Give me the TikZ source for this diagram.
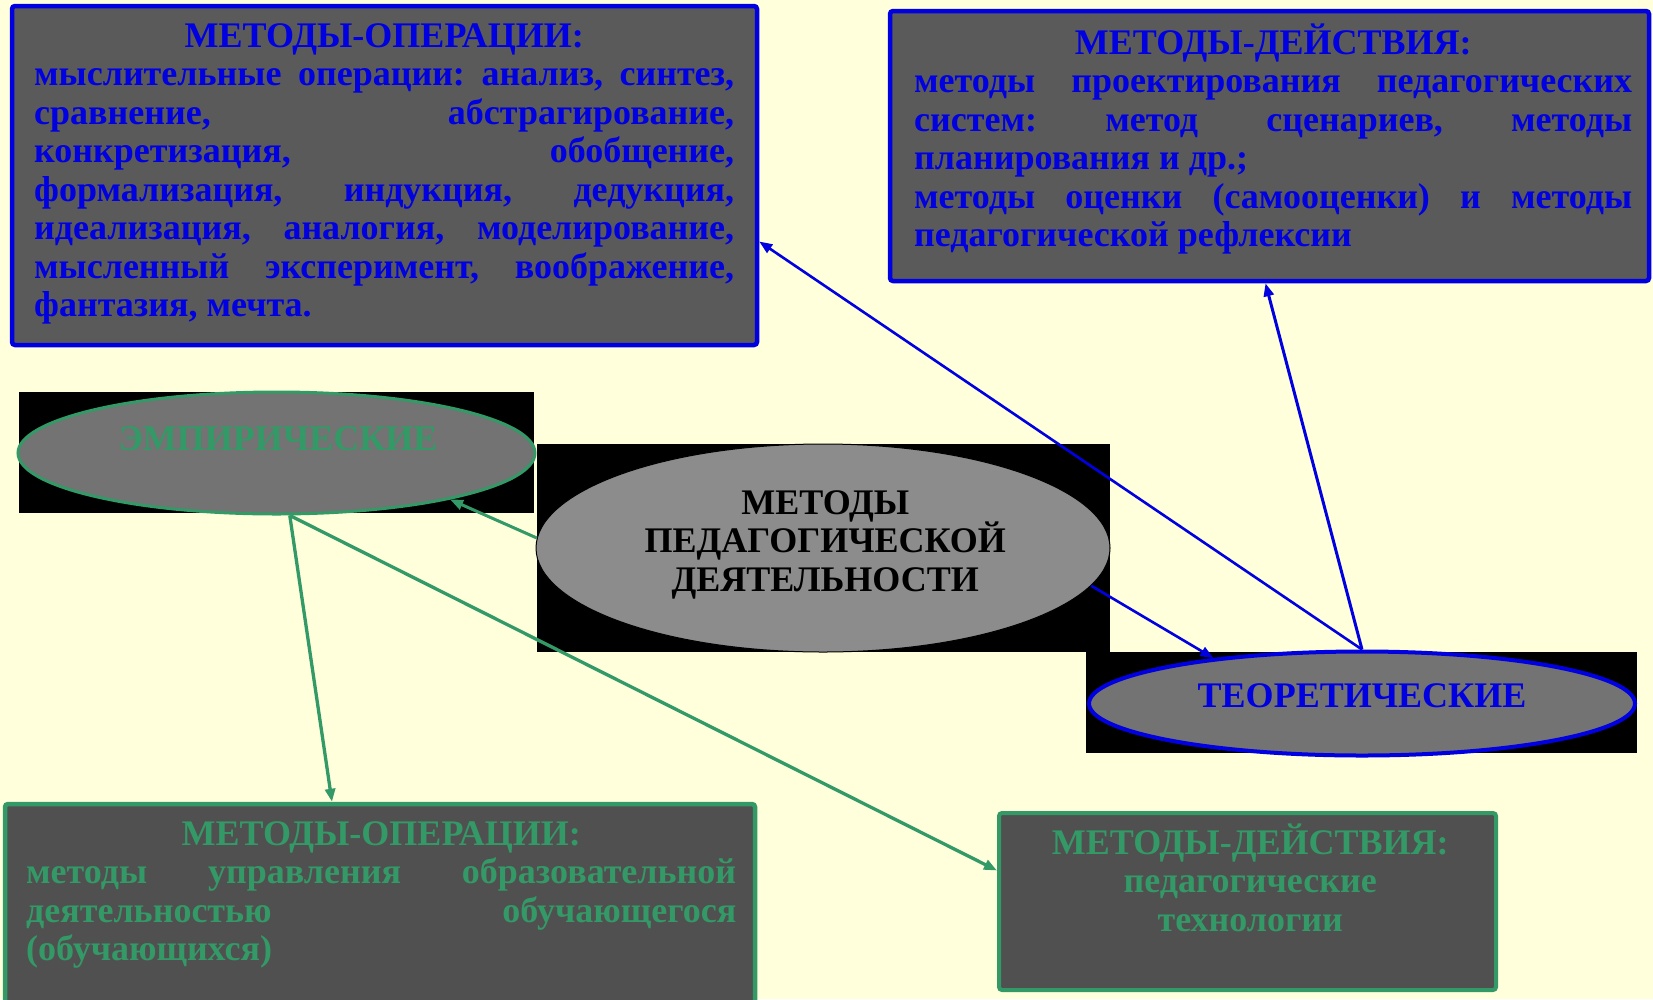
\documentclass[tikz,border=0pt]{standalone}
\usepackage{fontspec}
\setmainfont{Liberation Serif}
\usetikzlibrary{arrows.meta,shapes.geometric}
\definecolor{bg}{RGB}{255,255,220}
\definecolor{pblue}{RGB}{0,0,224}
\definecolor{pgreen}{RGB}{51,153,102}
\definecolor{boxgray}{RGB}{90,90,90}
\definecolor{boxgrayb}{RGB}{80,80,80}
\definecolor{ellgray}{RGB}{115,115,115}
\definecolor{cellgray}{RGB}{140,140,140}
\newcommand\jln[1]{\hbox to\hsize{\frenchspacing\spaceskip=0.2em plus 1fil minus 0.1em\xspaceskip=\spaceskip #1}}
\newcommand\lln[1]{\hbox to\hsize{#1\hfil}}
\newcommand\ctl[1]{\hbox to\hsize{\hfil #1\hfil}}
\begin{document}
\begin{tikzpicture}[x=1pt,y=-1pt,
  box/.style={rectangle, rounded corners=3pt, inner sep=0pt, line width=4.5pt},
  ell/.style={ellipse, inner sep=0pt},
  txt/.style={inner sep=0pt, font=\bfseries\fontsize{36}{38.5}\selectfont},
  bluearrow/.style={draw=pblue, line width=2.6pt, -{Triangle[length=13pt,width=10pt]}},
  greenarrow/.style={draw=pgreen, line width=3pt, -{Triangle[length=13pt,width=10pt]}}]
\useasboundingbox (0,0) rectangle (1653,999);
\clip (0,0) rectangle (1653,999);
\fill[bg] (0,0) rectangle (1653,999);
% black backgrounds behind the ellipses
\fill[black] (19,392) rectangle (534,513);
\fill[black] (537,444) rectangle (1110,652);
\fill[black] (1086,652) rectangle (1637,753);
% boxes
\node[box, draw=pblue, fill=boxgray, minimum width=745pt, minimum height=339pt] (tl) at (384.5,175.5) {};
\node[box, draw=pblue, fill=boxgray, minimum width=759pt, minimum height=270pt] (tr) at (1269.5,146) {};
\node[box, draw=pgreen, fill=boxgrayb, minimum width=750pt, minimum height=216pt] (bl) at (380,912) {};
\node[box, draw=pgreen, fill=boxgrayb, line width=4pt, minimum width=497pt, minimum height=177pt] (br) at (1247.5,901.5) {};
% ellipses
\node[ell, draw=pgreen, line width=3pt, fill=ellgray, minimum width=517pt, minimum height=122pt] (e) at (276.5,453) {};
\node[ell, draw=black, line width=1pt, fill=cellgray, minimum width=574pt, minimum height=208pt] (c) at (823,548) {};
\node[ell, draw=pblue, line width=4pt, fill=ellgray, minimum width=546pt, minimum height=104pt] (t) at (1362,703.5) {};
% texts
\node[txt, text=pblue, anchor=base west] (tltext) at (34,47) {\vtop{\hsize=700pt\lineskiplimit=-\maxdimen
  \ctl{МЕТОДЫ-ОПЕРАЦИИ:}
  \jln{мыслительные операции: анализ, синтез,}
  \jln{сравнение, абстрагирование,}
  \jln{конкретизация, обобщение,}
  \jln{формализация, индукция, дедукция,}
  \jln{идеализация, аналогия, моделирование,}
  \jln{мысленный эксперимент, воображение,}
  \lln{фантазия, мечта.}}};
\node[txt, text=pblue, anchor=base west] (trtext) at (914,54) {\vtop{\hsize=718pt\lineskiplimit=-\maxdimen
  \ctl{МЕТОДЫ-ДЕЙСТВИЯ:}
  \jln{методы проектирования педагогических}
  \jln{систем: метод сценариев, методы}
  \lln{планирования и др.;}
  \jln{методы оценки (самооценки) и методы}
  \lln{педагогической рефлексии}}};
\node[txt, text=pgreen, anchor=base west] (bltext) at (26,845) {\vtop{\hsize=710pt\lineskiplimit=-\maxdimen
  \ctl{МЕТОДЫ-ОПЕРАЦИИ:}
  \jln{методы управления образовательной}
  \jln{деятельностью обучающегося}
  \lln{(обучающихся)}}};
\node[txt, text=pgreen, anchor=base west] (brtext) at (1000,854) {\vtop{\hsize=500pt\lineskiplimit=-\maxdimen
  \ctl{МЕТОДЫ-ДЕЙСТВИЯ:}
  \ctl{педагогические}
  \ctl{технологии}}};
\node[txt, text=black, anchor=base west] (ctext) at (575,514) {\vtop{\hsize=500pt\lineskiplimit=-\maxdimen
  \ctl{МЕТОДЫ}
  \ctl{ПЕДАГОГИЧЕСКОЙ}
  \ctl{ДЕЯТЕЛЬНОСТИ}}};
\node[txt, text=pgreen, anchor=base] (etext) at (278,450) {ЭМПИРИЧЕСКИЕ};
\node[txt, text=pblue, anchor=base] (ttext) at (1362,707) {ТЕОРЕТИЧЕСКИЕ};
% connectors
\draw[greenarrow] (c.178) -- (e.-15);
\draw[bluearrow] (c.-8) -- (t.163);
\draw[bluearrow] (t.north) -- ([yshift=-66pt]tl.east);
\draw[bluearrow, line width=3pt] (t.north) -- ([xshift=-4pt]tr.south);
\draw[greenarrow, line width=3.3pt] (e.-78) -- ([xshift=-48pt]bl.north);
\draw[greenarrow, line width=3.3pt] (e.-78) -- ([yshift=31pt]br.west);
\end{tikzpicture}
\end{document}
